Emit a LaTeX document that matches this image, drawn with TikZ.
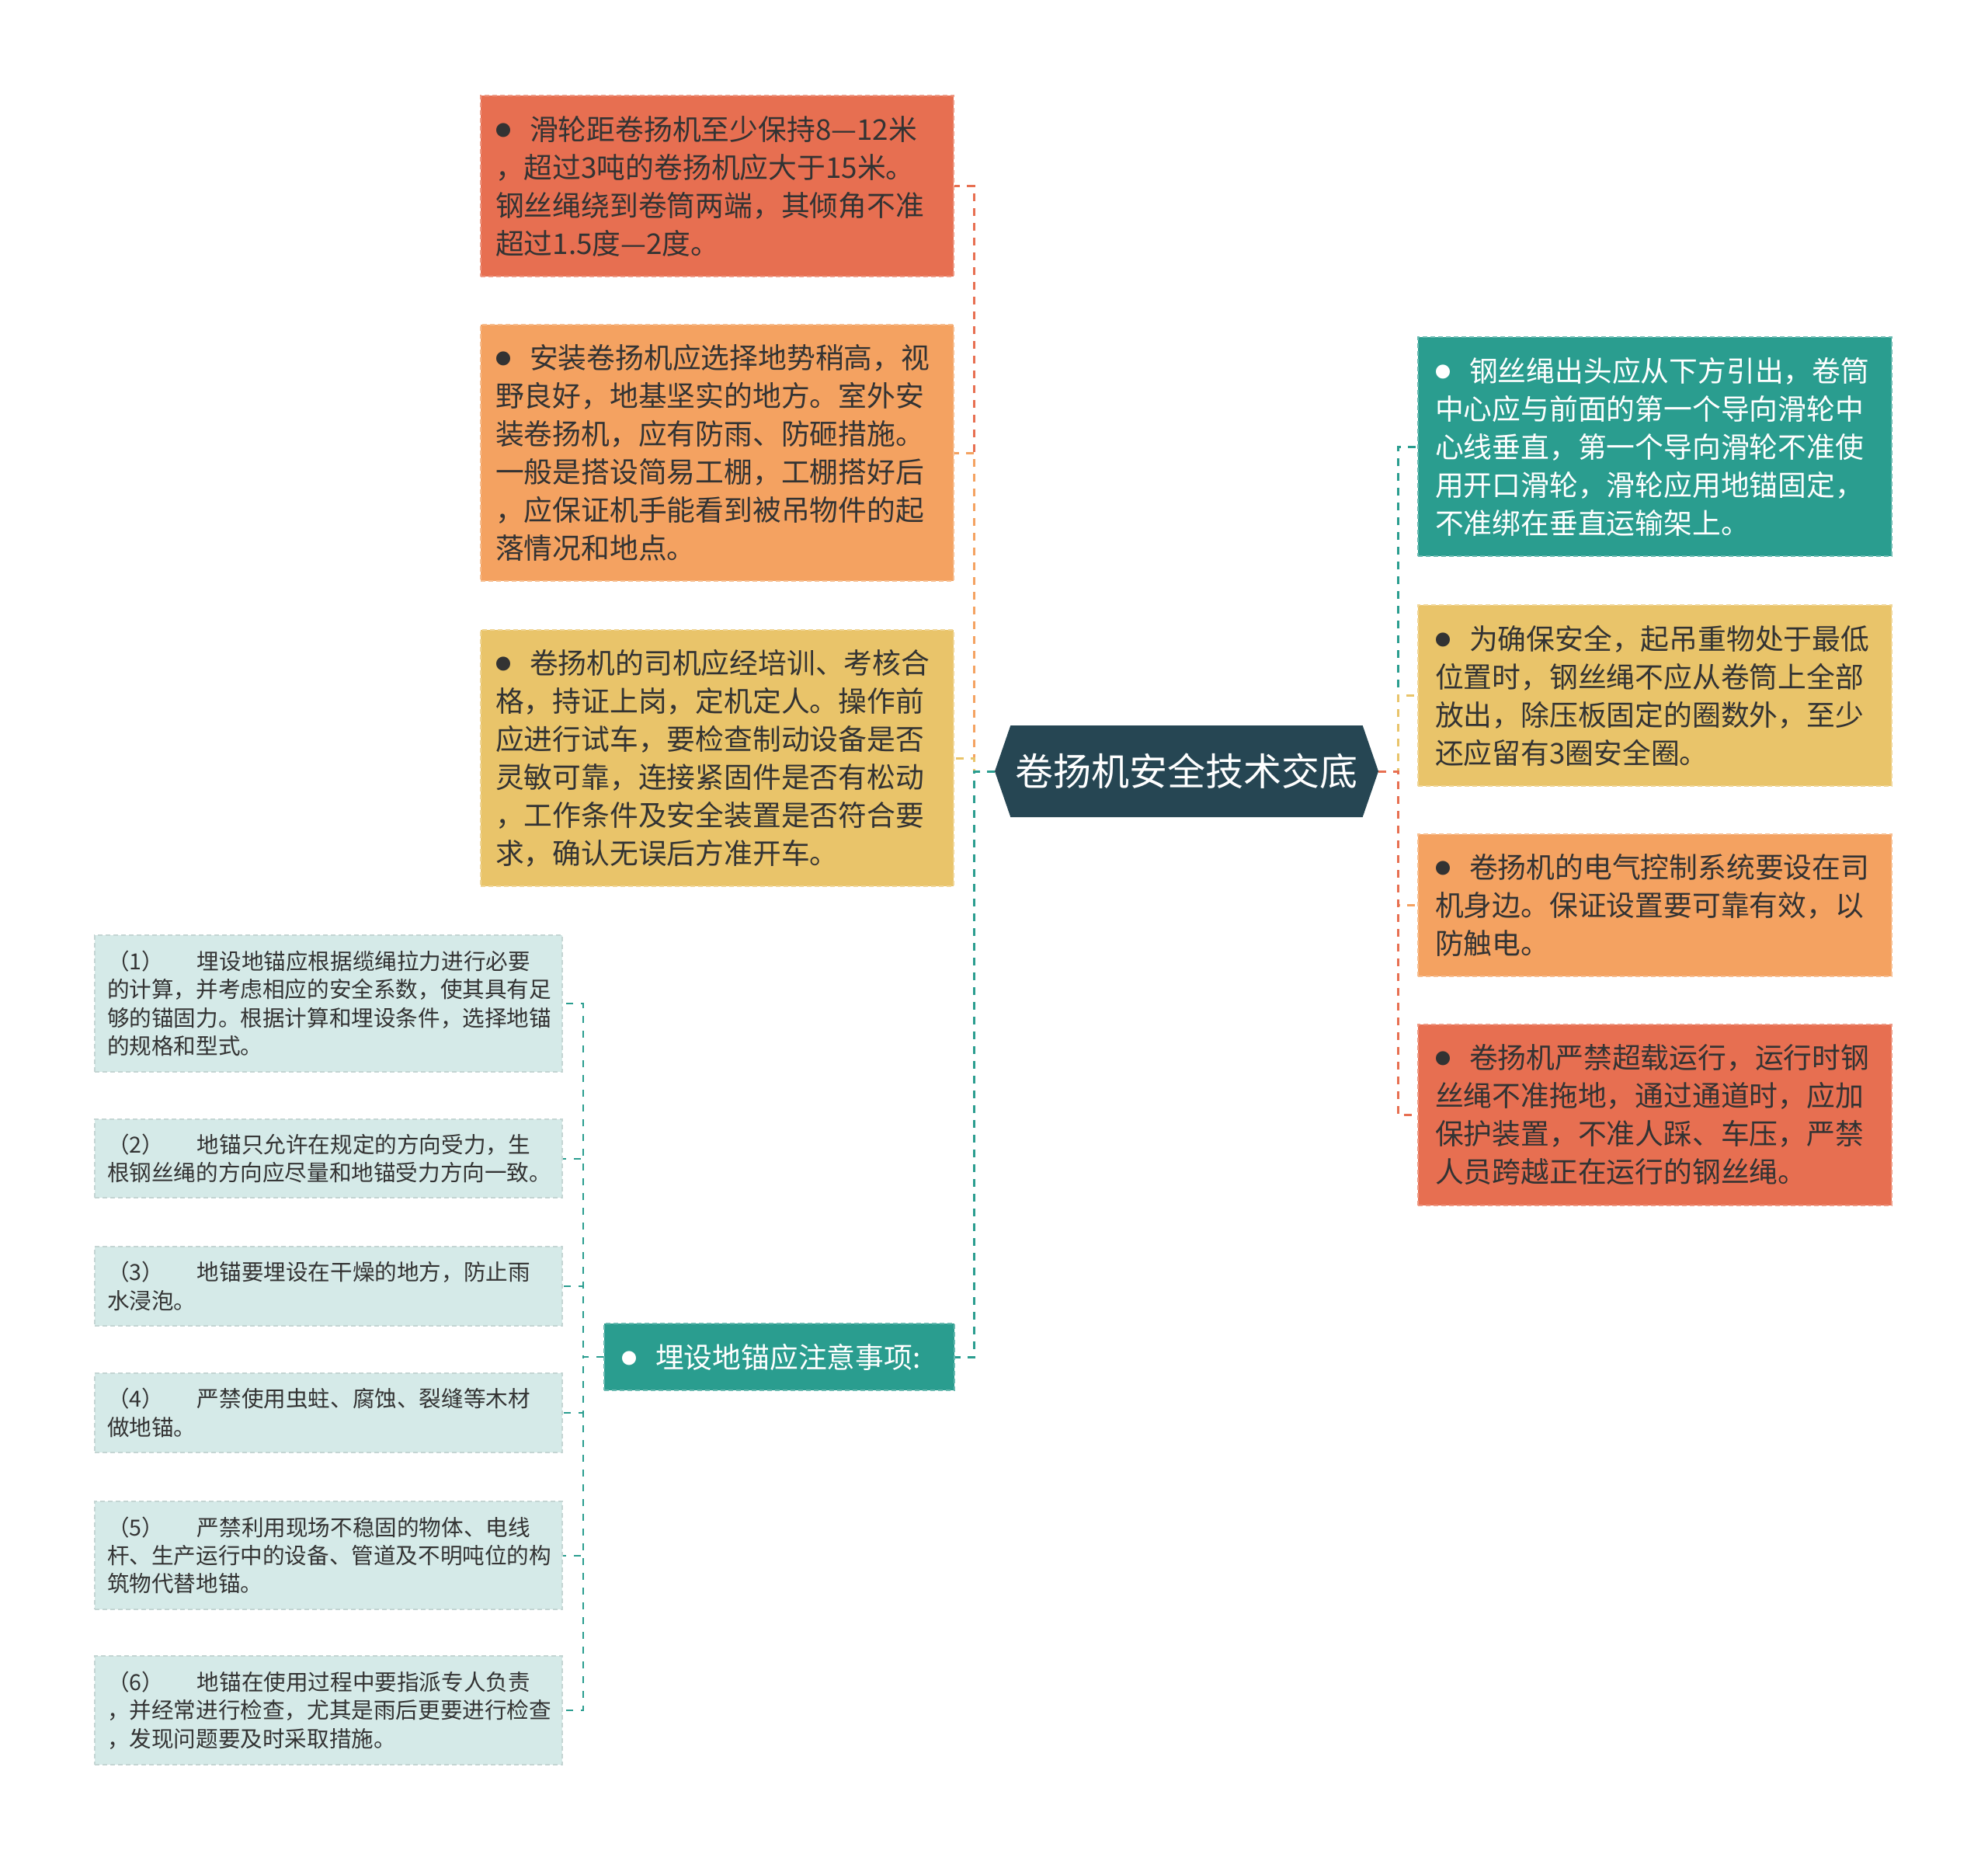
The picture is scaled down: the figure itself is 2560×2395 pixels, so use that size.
\documentclass[tikz,border=0pt]{standalone}
\usepackage{fontspec}
\newfontfamily\cjk{Noto Sans CJK SC}
\usetikzlibrary{shapes.symbols}
\definecolor{cDark}{HTML}{264653}
\definecolor{cTeal}{HTML}{2A9D8F}
\definecolor{cYellow}{HTML}{E9C46A}
\definecolor{cOrange}{HTML}{F4A261}
\definecolor{cRed}{HTML}{E76F51}
\definecolor{cPale}{HTML}{D5EAE8}
\definecolor{cText}{HTML}{333333}
\newcommand\blt[1][cText]{\makebox[22pt][l]{\raisebox{2.5pt}{\fontsize{10}{10}\selectfont\textcolor{#1}{●}}}}
\newcommand\num[1]{\makebox[58pt][l]{（#1）}}
\tikzset{
  box/.style={rectangle, fill=#1, draw=#1!70!white, dash pattern=on 3pt off 2pt, line width=0.8pt,
    align=left, inner ysep=0pt},
  lbox/.style={box=#1, text width=285.5pt, inner xsep=9.5pt, text=cText,
    font=\cjk\fontsize{18.4}{24.5}\selectfont},
  rbox/.style={box=#1, text width=283pt, inner xsep=11pt, text=cText,
    font=\cjk\fontsize{18.4}{24.5}\selectfont},
  sbox/.style={box=cPale, draw=cPale!80!gray, text width=285pt, inner xsep=8pt, text=cText,
    font=\cjk\fontsize{14.3}{18.2}\selectfont},
  mainc/.style={draw=#1, line width=1.5pt, dash pattern=on 5pt off 4.5pt},
  subc/.style={draw=#1, line width=1pt, dash pattern=on 4.5pt off 5pt},
}
\begin{document}
\begin{tikzpicture}[x=0.5pt, y=-0.5pt]
\useasboundingbox[fill=white] (0,0) rectangle (2560,2395);

% center
\node[signal, signal to=west and east, signal pointer angle=142, fill=cDark, text=white,
  minimum width=247pt, minimum height=59pt, inner sep=0pt,
  font=\cjk\fontsize{24.5}{30}\selectfont] (C) at (1528,993) {卷扬机安全技术交底};

% left column
\node[lbox=cRed, minimum height=116.5pt] (L1) at (923.5,239.5) {\blt 滑轮距卷扬机至少保持8—12米\\，超过3吨的卷扬机应大于15米。\\钢丝绳绕到卷筒两端，其倾角不准\\超过1.5度—2度。};
\node[lbox=cOrange, minimum height=165pt] (L2) at (923.5,583) {\blt 安装卷扬机应选择地势稍高，视\\野良好，地基坚实的地方。室外安\\装卷扬机，应有防雨、防砸措施。\\一般是搭设简易工棚，工棚搭好后\\，应保证机手能看到被吊物件的起\\落情况和地点。};
\node[lbox=cYellow, minimum height=165pt] (L3) at (923.5,976) {\blt 卷扬机的司机应经培训、考核合\\格，持证上岗，定机定人。操作前\\应进行试车，要检查制动设备是否\\灵敏可靠，连接紧固件是否有松动\\，工作条件及安全装置是否符合要\\求，确认无误后方准开车。};
\node[box=cTeal, text width=203.5pt, inner xsep=11pt, minimum height=43pt, text=white,
  font=\cjk\fontsize{18.4}{24.5}\selectfont] (L4) at (1003.5,1747) {\blt[white]埋设地锚应注意事项:};

% sub boxes
\node[sbox, minimum height=88pt] (S1) at (423,1292) {\num{1}埋设地锚应根据缆绳拉力进行必要\\的计算，并考虑相应的安全系数，使其具有足\\够的锚固力。根据计算和埋设条件，选择地锚\\的规格和型式。};
\node[sbox, minimum height=50.5pt] (S2) at (423,1491.5) {\num{2}地锚只允许在规定的方向受力，生\\根钢丝绳的方向应尽量和地锚受力方向一致。};
\node[sbox, minimum height=51pt] (S3) at (423,1656) {\num{3}地锚要埋设在干燥的地方，防止雨\\水浸泡。};
\node[sbox, minimum height=51pt] (S4) at (423,1819) {\num{4}严禁使用虫蛀、腐蚀、裂缝等木材\\做地锚。};
\node[sbox, minimum height=69.5pt] (S5) at (423,2002.5) {\num{5}严禁利用现场不稳固的物体、电线\\杆、生产运行中的设备、管道及不明吨位的构\\筑物代替地锚。};
\node[sbox, minimum height=70pt] (S6) at (423,2202) {\num{6}地锚在使用过程中要指派专人负责\\，并经常进行检查，尤其是雨后更要进行检查\\，发现问题要及时采取措施。};

% right column
\node[rbox=cTeal, text=white, minimum height=141pt] (R1) at (2131,575) {\blt[white]钢丝绳出头应从下方引出，卷筒\\中心应与前面的第一个导向滑轮中\\心线垂直，第一个导向滑轮不准使\\用开口滑轮，滑轮应用地锚固定，\\不准绑在垂直运输架上。};
\node[rbox=cYellow, minimum height=116.5pt] (R2) at (2131,895.5) {\blt 为确保安全，起吊重物处于最低\\位置时，钢丝绳不应从卷筒上全部\\放出，除压板固定的圈数外，至少\\还应留有3圈安全圈。};
\node[rbox=cOrange, minimum height=91.5pt] (R3) at (2131,1165.5) {\blt 卷扬机的电气控制系统要设在司\\机身边。保证设置要可靠有效，以\\防触电。};
\node[rbox=cRed, minimum height=116.5pt] (R4) at (2131,1435.5) {\blt 卷扬机严禁超载运行，运行时钢\\丝绳不准拖地，通过通道时，应加\\保护装置，不准人踩、车压，严禁\\人员跨越正在运行的钢丝绳。};

% connectors left
\draw[mainc=cRed] (C.west) -- ++(-26,0) |- (L1.east);
\draw[mainc=cOrange] (C.west) -- ++(-26,0) |- (L2.east);
\draw[mainc=cYellow] (C.west) -- ++(-26,0) |- (L3.east);
\draw[mainc=cTeal] (C.west) -- ++(-26,0) |- (L4.east);
% connectors right
\draw[mainc=cTeal] (C.east) -- ++(25,0) |- (R1.west);
\draw[mainc=cYellow] (C.east) -- ++(25,0) |- (R2.west);
\draw[mainc=cOrange] (C.east) -- ++(25,0) |- (R3.west);
\draw[mainc=cRed] (C.east) -- ++(25,0) |- (R4.west);
% sub connectors
\foreach \s in {S1,S2,S3,S4,S5,S6}
  \draw[subc=cTeal] (L4.west) -- ++(-26,0) |- (\s.east);
\end{tikzpicture}
\end{document}
